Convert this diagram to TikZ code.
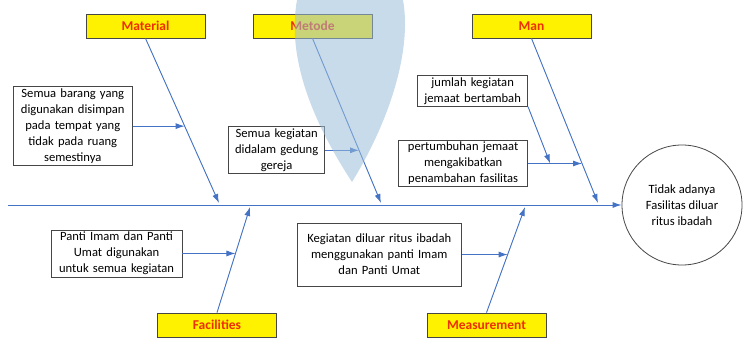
\documentclass[tikz,border=0pt]{standalone}
\usepackage{fontspec}
\setmainfont{Carlito}
\usetikzlibrary{calc,positioning,arrows.meta}
\definecolor{bonecol}{RGB}{68,114,196}
\definecolor{labelred}{RGB}{238,45,0}
\definecolor{boxline}{RGB}{70,70,70}
\definecolor{markcol}{RGB}{155,189,217}

\begin{document}
\begin{tikzpicture}[
        x=1pt, y=-1pt,
        font=\fontsize{12.6}{16}\selectfont,
        category/.style={draw=boxline, line width=0.8pt, fill=yellow, minimum width=119pt, minimum height=24pt, inner sep=0pt, text=labelred, font=\fontsize{13.5}{16}\selectfont\bfseries},
        cause/.style={draw=boxline, line width=0.8pt, fill=white, inner sep=2pt, text width=#1, align=center, anchor=east},
        effect/.style={circle, draw=boxline, line width=0.8pt, minimum size=120pt, align=center, inner sep=0pt},
        arrow/.style={-{Latex[length=9pt,width=6pt]}, draw=bonecol, fill=bonecol, line width=0.9pt},
        watermark/.style={fill=markcol, opacity=0.55},
    ]
    \useasboundingbox (0,0) rectangle (743,339);

    % Categories
    \node[category] (material) at (145.5,26) {Material};
    \node[category] (metode) at (312.5,26) {Metode};
    \node[category] (man) at (531.5,26) {Man};
    \node[category] (facilities) at (217,325) {Facilities};
    \node[category] (measurement) at (486.5,325) {Measurement};

    % Spine and effect
    \coordinate (tail) at (8,205);
    \node[effect] (problem) at (682,205) {Tidak adanya\\Fasilitas diluar\\ritus ibadah};
    \draw[arrow] (tail) -- (problem);

    % Bones
    \coordinate (matS) at (219,203);
    \coordinate (metS) at (381,203);
    \coordinate (manS) at (598,203);
    \coordinate (facS) at (250,207);
    \coordinate (meaS) at (525,207);
    \draw[arrow] (material.south) -- (matS);
    \draw[arrow] (metode.south) -- (metS);
    \draw[arrow] (man.south) -- (manS);
    \draw[arrow] (facilities.north) -- (facS);
    \draw[arrow] (measurement.north) -- (meaS);

    \coordinate (m1) at ($(material.south)!0.533!(matS)$);
    \coordinate (m2) at ($(metode.south)!0.68!(metS)$);
    \coordinate (m3) at ($(man.south)!0.76!(manS)$);
    \coordinate (f1) at ($(facilities.north)!0.56!(facS)$);
    \coordinate (e1) at ($(measurement.north)!0.55!(meaS)$);

    % Causes
    \node[cause=115pt, minimum height=77pt] (matcause) at ([xshift=-52pt]m1)
        {Semua barang yang\\digunakan disimpan\\pada tempat yang\\tidak pada ruang\\semestinya};
    \node[cause=92pt, minimum height=46pt] (metcause) at ([xshift=-34pt]m2)
        {Semua kegiatan\\didalam gedung\\gereja};
    \node[cause=125pt, minimum height=46pt] (growth) at ([xshift=-54pt]m3)
        {pertumbuhan jemaat\\mengakibatkan\\penambahan fasilitas};
    \node[cause=106pt, minimum height=30pt, anchor=south east] (amount) at ([yshift=33pt]growth.north east)
        {jumlah kegiatan\\jemaat bertambah};
    \node[cause=127pt, minimum height=46pt] (faccause) at ([xshift=-53pt]f1)
        {Panti Imam dan Panti\\Umat digunakan\\untuk semua kegiatan};
    \node[cause=160pt, minimum height=63pt] (meacause) at ([xshift=-46pt]e1)
        {Kegiatan diluar ritus ibadah\\menggunakan panti Imam\\dan Panti Umat};

    \coordinate (g1) at ($(growth.east)!0.41!(m3)$);
    \draw[arrow] (matcause) -- (m1);
    \draw[arrow] (metcause) -- (m2);
    \draw[arrow] (growth) -- (m3);
    \draw[arrow] (amount.south east) -- (g1);
    \draw[arrow] (faccause) -- (f1);
    \draw[arrow] (meacause) -- (e1);

    % Watermark
    \fill[watermark] (297,0) .. controls (288,50) and (305,110) .. (352,182)
        .. controls (390,120) and (412,50) .. (403,0) -- cycle;

\end{tikzpicture}
\end{document}
